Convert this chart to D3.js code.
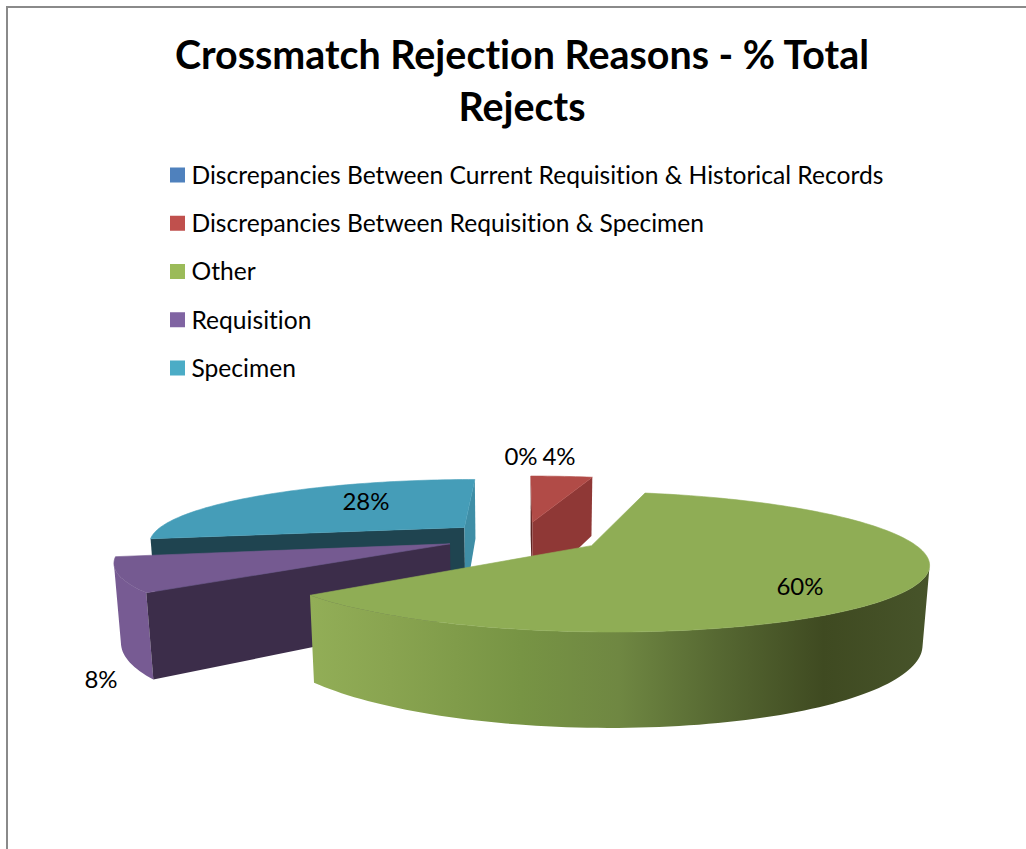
<!DOCTYPE html>
<html>
<head>
<meta charset="utf-8">
<script src="https://cdnjs.cloudflare.com/ajax/libs/d3/7.8.5/d3.min.js"></script>
<style>
  html, body { margin: 0; padding: 0; background: #fff; }
  svg { display: block; font-family: Lato, "Open Sans", sans-serif; font-variant-ligatures: none; }
</style>
</head>
<body>
<svg id="chart" width="1026" height="849"></svg>
<script>
// Chart content
const titleLines = ["Crossmatch Rejection Reasons - % Total", "Rejects"];
const categories = [
  "Discrepancies Between Current Requisition & Historical Records",
  "Discrepancies Between Requisition & Specimen",
  "Other",
  "Requisition",
  "Specimen"
];
const values = [0, 4, 60, 8, 28];
const legendColors = ["#4f81bd", "#c0504d", "#9bbb59", "#8064a2", "#4bacc6"];

// Face colours per slice: top, cut face at the start angle, cut face at the end angle, rim
const topColors = ["#4678b0", "#b14b47", "#8fad55", "#755a91", "#459db8"];
const startFace = ["#2a4a70", "#5f2624", "#5d7034", "#3c2d4a", "#1f4450"];
const endFace   = ["#2a4a70", "#8f3836", "#5d7034", "#3c2d4a", "#3f8ea6"];
const rimColors = ["#2a4a70", "#8f3836", "url(#rimOther)", "#775b93", "#3f8ea6"];

// Data label anchors (text centres on the page)
const labelAnchors = [[521, 456], [559, 456], [800, 586], [101, 679], [366, 501]];

// Perspective camera for the exploded 3D pie
const cam = { cx: 523, cy: 537, rx: 315, ry: 62.5, persp: 0.224, depth: 74.6, shrink: 0.016, explode: 0.25 };

// Projects a point on the unit pie (U right, V toward the viewer, z 0 top .. 1 bottom)
function project(U, V, z) {
  const w = 1 - cam.persp * V + cam.shrink * z;
  return [cam.cx + cam.rx * U / w, cam.cy + (cam.ry * V + cam.depth * z) / w];
}

const svg = d3.select("#chart");

// Chart frame: only the top and left edges fall inside the page
svg.append("path")
  .attr("d", "M7,849V7H1026")
  .attr("fill", "none")
  .attr("stroke", "#8a8a8a")
  .attr("stroke-width", 2);

// Title
svg.append("g").selectAll("text").data(titleLines).join("text")
  .attr("x", 522)
  .attr("y", (d, i) => 68.5 + i * 52)
  .attr("text-anchor", "middle")
  .attr("font-weight", 700)
  .attr("font-size", 39.4)
  .attr("fill", "#000")
  .text(d => d);

// Legend
const legendY = d3.scalePoint().domain(categories).range([175, 368]);
const legend = svg.append("g").selectAll("g").data(categories).join("g")
  .attr("transform", d => `translate(0,${legendY(d)})`);
legend.append("rect")
  .attr("x", 170).attr("y", -7.5).attr("width", 15).attr("height", 15)
  .attr("fill", (d, i) => legendColors[i]);
legend.append("text")
  .attr("x", 191.5).attr("y", 8.8)
  .attr("font-size", 24.6)
  .attr("fill", "#000")
  .text(d => d);

// Shaded rim of the largest slice
const rim = svg.append("defs").append("linearGradient")
  .attr("id", "rimOther")
  .attr("gradientUnits", "userSpaceOnUse")
  .attr("x1", 310).attr("x2", 929).attr("y1", 0).attr("y2", 0);
[[0, "#92ae57"], [0.13, "#89a450"], [0.34, "#779444"], [0.5, "#6f8742"], [0.66, "#566832"],
 [0.83, "#3f4a21"], [1, "#47542a"]].forEach(([o, c]) =>
  rim.append("stop").attr("offset", o).attr("stop-color", c));

// Slices laid out clockwise from twelve o'clock, in series order
const pie = d3.pie().sort(null).startAngle(0).endAngle(2 * Math.PI);
const slices = pie(values).map((s, i) => {
  const mid = (s.startAngle + s.endAngle) / 2;
  const off = [cam.explode * Math.sin(mid), -cam.explode * Math.cos(mid)];
  const pt = (a, r, z) => project(off[0] + r * Math.sin(a), off[1] - r * Math.cos(a), z);
  const n = Math.max(2, Math.ceil((s.endAngle - s.startAngle) * 40));
  const angles = d3.range(n + 1).map(k => s.startAngle + (s.endAngle - s.startAngle) * k / n);
  return { i, s, pt, angles };
});

const line = d3.line();
const closed = pts => line(pts) + "Z";

// A wall dropped below the top edge P -> Q; d3.polygonArea is positive for the walls facing the viewer
const wallQuad = (P, Q, Pb, Qb) => [P, Q, Qb, Pb];
const facesViewer = quad => d3.polygonArea(quad) > 0;

// Back slices first so that nearer ones cover them
const paintOrder = [0, 4, 1, 3, 2];
const pieG = svg.append("g");
paintOrder.forEach(idx => {
  const { s, pt, angles } = slices[idx];
  if (s.value === 0) return;
  const g = pieG.append("g");
  const apex = z => pt(0, 0, z);

  // Outer rim: the visible strips, joined into one path so they leave no seams
  const strips = d3.pairs(angles)
    .map(([a, b]) => wallQuad(pt(a, 1, 0), pt(b, 1, 0), pt(a, 1, 1), pt(b, 1, 1)))
    .filter(facesViewer);
  if (strips.length) {
    g.append("path").attr("d", strips.map(closed).join("")).attr("fill", rimColors[idx]);
  }

  // Straight cut faces, running around the top outline in the same direction as the rim
  const cutFaces = [
    [wallQuad(apex(0), pt(s.startAngle, 1, 0), apex(1), pt(s.startAngle, 1, 1)), startFace[idx]],
    [wallQuad(pt(s.endAngle, 1, 0), apex(0), pt(s.endAngle, 1, 1), apex(1)), endFace[idx]]
  ];
  cutFaces.filter(([q]) => facesViewer(q)).forEach(([q, color]) => {
    g.append("path").attr("d", closed(q)).attr("fill", color);
  });

  // Top surface, with a hairline of its own colour to close the join with the walls
  g.append("path")
    .attr("d", closed([apex(0), ...angles.map(a => pt(a, 1, 0))]))
    .attr("fill", topColors[idx])
    .attr("stroke", topColors[idx])
    .attr("stroke-width", 0.6)
    .attr("stroke-linejoin", "round");
});

// Data labels
svg.append("g").selectAll("text").data(values).join("text")
  .attr("x", (d, i) => labelAnchors[i][0])
  .attr("y", (d, i) => labelAnchors[i][1] + 8.5)
  .attr("text-anchor", "middle")
  .attr("font-size", 24)
  .attr("fill", "#000")
  .text(d => d + "%");
</script>
</body>
</html>
